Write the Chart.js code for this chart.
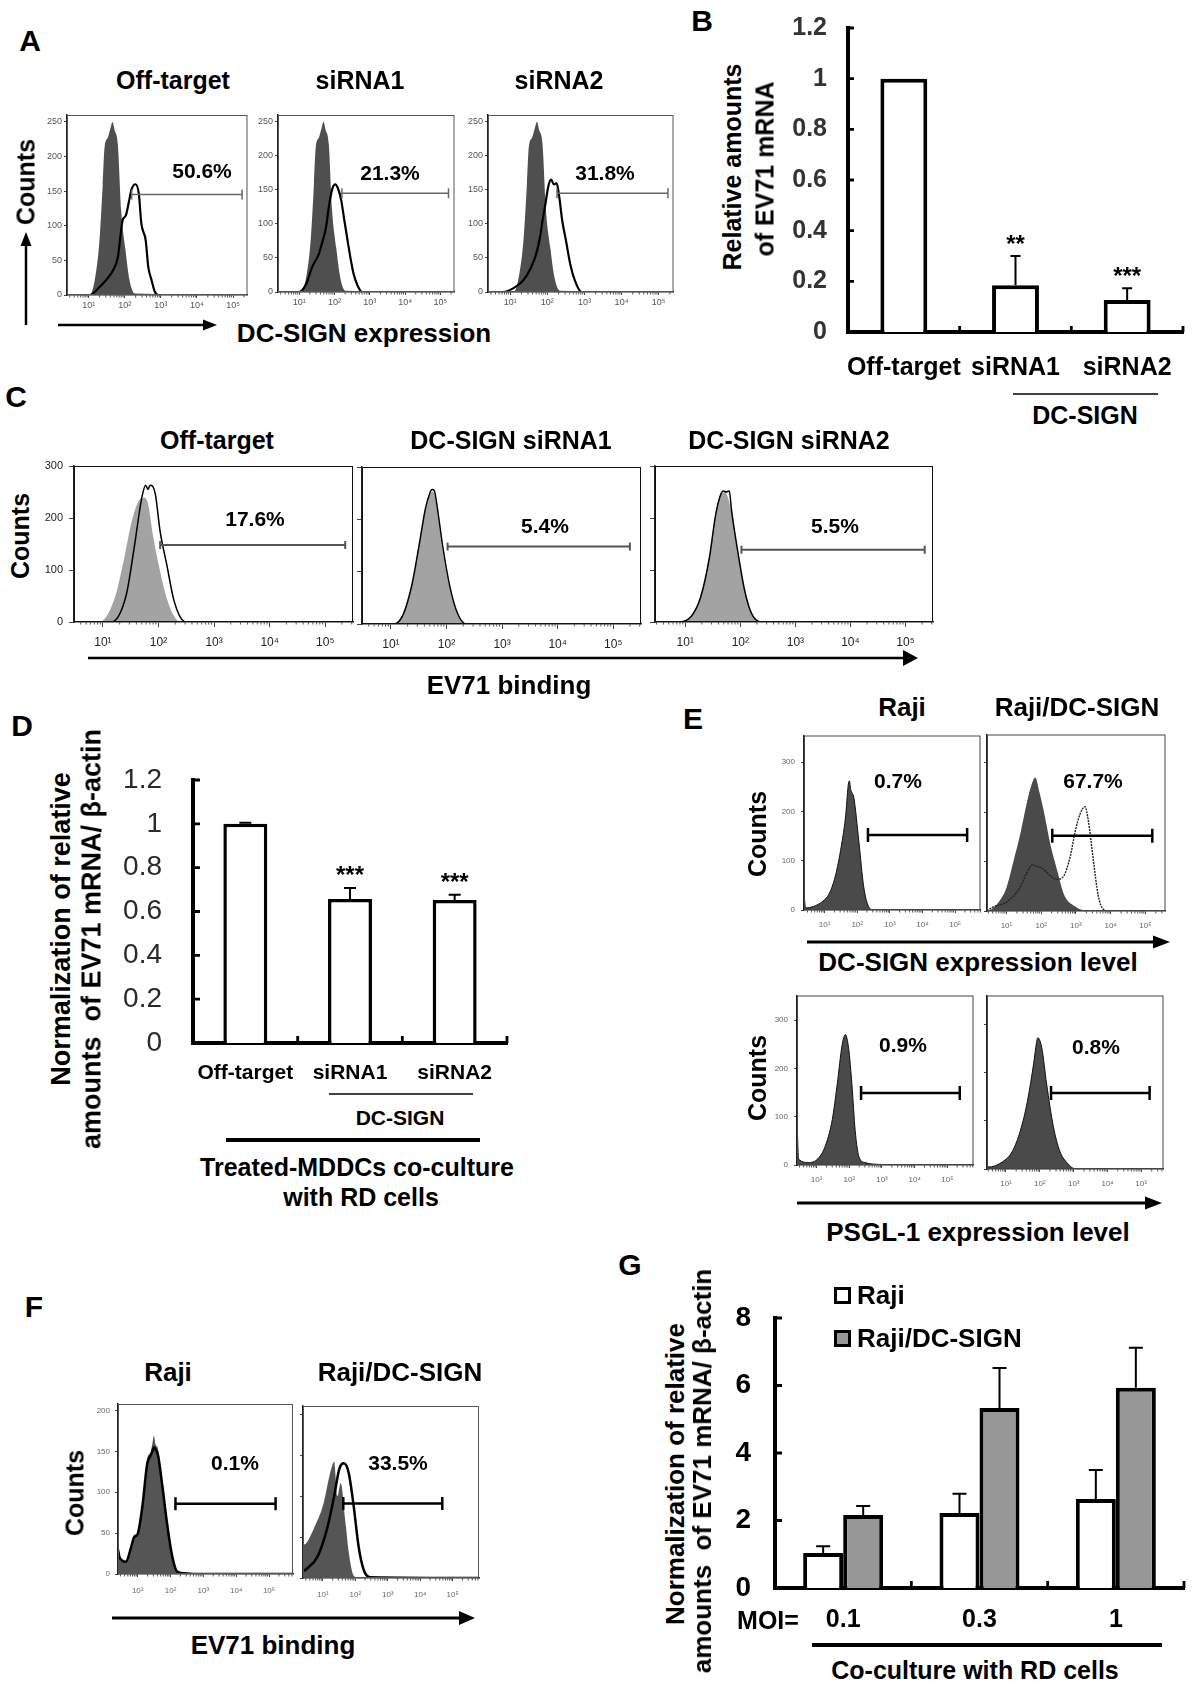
<!DOCTYPE html>
<html lang="en">
<head>
<meta charset="UTF-8" />
<title>DC-SIGN and EV71 binding</title>
<script src="https://cdn.jsdelivr.net/npm/chart.js"></script>
<style>
  body { margin: 0; background: #fff; font-family: 'Liberation Sans', Arial, sans-serif; }
  #page { position: relative; width: 1200px; height: 1698px; overflow: hidden; background: #fff; }
  canvas { position: absolute; }
  .t { position: absolute; transform: translate(-50%, -50%); font-weight: bold; white-space: pre; color: #000; line-height: 1; }
  .r { transform: translate(-50%, -50%) rotate(-90deg); }
  .l { transform: translate(0, -50%); }
  .box { position: absolute; width: 17px; height: 17px; box-sizing: border-box; border: 3px solid #000; }
  svg { position: absolute; left: 0; top: 0; }
</style>
</head>
<body>
<div id="page"></div>
<script>
// ---- data (x of histograms in log10 units, y = counts) ----
// Panel A: DC-SIGN expression
const aTitles = ['Off-target', 'siRNA1', 'siRNA2'];
const aPct = ['50.6%', '21.3%', '31.8%'];
const aGates = [[2.19, 5.25, 145], [2.21, 5.23, 145], [2.26, 5.25, 145]];
const aIsoY = [0, 0, 22, 79, 160, 213, 227, 240, 250, 238, 217, 122, 65, 22, 2, 0];
const aOffIsoX = [0.4, 1.03, 1.17, 1.3, 1.39, 1.44, 1.53, 1.6, 1.66, 1.72, 1.81, 1.9, 2.02, 2.13, 2.28, 5.4];
const aSi1IsoX = [0.4, 1.06, 1.2, 1.33, 1.42, 1.47, 1.56, 1.63, 1.69, 1.75, 1.84, 1.93, 2.05, 2.16, 2.31, 5.4];
const aSi2IsoX = [0.4, 1.09, 1.23, 1.36, 1.45, 1.5, 1.59, 1.66, 1.72, 1.78, 1.87, 1.96, 2.08, 2.19, 2.34, 5.4];
const aOffX = [0.4, 1.03, 1.31, 1.49, 1.68, 1.81, 1.94, 2.03, 2.12, 2.19, 2.3, 2.39, 2.46, 2.58, 2.65, 2.74, 2.83, 2.93, 5.4];
const aOffY = [0, 0, 12, 22, 36, 55, 108, 115, 136, 153, 160, 146, 103, 79, 41, 22, 5, 0, 0];
const aSi1X = [0.4, 1.0, 1.2, 1.37, 1.55, 1.67, 1.76, 1.84, 1.93, 2.02, 2.1, 2.19, 2.28, 2.37, 2.46, 2.54, 2.65, 2.78, 5.4];
const aSi1Y = [0, 0, 12, 37, 55, 76, 95, 125, 150, 158, 152, 135, 105, 76, 48, 27, 10, 0, 0];
const aSi2X = [0.4, 0.8, 1.1, 1.35, 1.55, 1.7, 1.8, 1.87, 1.95, 2.02, 2.1, 2.18, 2.25, 2.32, 2.4, 2.5, 2.62, 2.74, 2.92, 5.4];
const aSi2Y = [0, 0, 6, 17, 35, 56, 80, 105, 130, 154, 165, 158, 160, 140, 105, 76, 40, 17, 0, 0];

// Panel B: relative EV71 mRNA
const bCats = ['Off-target', 'siRNA1', 'siRNA2'];
const bVals = [1.0, 0.185, 0.126];
const bErr = [0, 0.115, 0.047];
const bSig = ['', '**', '***'];

// Panel C: EV71 binding
const cTitles = ['Off-target', 'DC-SIGN siRNA1', 'DC-SIGN siRNA2'];
const cPct = ['17.6%', '5.4%', '5.5%'];
const cGates = [[2.03, 5.36, 148], [2.02, 5.3, 148], [2.02, 5.35, 139]];
const c1FillX = [0.48, 0.94, 1.21, 1.37, 1.52, 1.64, 1.73, 1.8, 1.91, 2.03, 2.15, 2.27, 2.39, 5.5];
const c1FillY = [0, 0, 45, 116, 194, 232, 239, 232, 161, 97, 45, 13, 0, 0];
const c1LineX = [0.48, 1.15, 1.42, 1.57, 1.7, 1.77, 1.81, 1.85, 1.94, 2.03, 2.15, 2.27, 2.39, 2.5, 5.5];
const c1LineY = [0, 0, 52, 148, 239, 263, 255, 263, 248, 174, 110, 45, 10, 0, 0];
const c2FillX = [0.48, 1.05, 1.22, 1.38, 1.51, 1.62, 1.7, 1.76, 1.81, 1.92, 2.05, 2.19, 2.35, 5.5];
const c2FillY = [0, 0, 20, 78, 154, 218, 247, 253, 231, 148, 71, 20, 0, 0];
const c2LineX = [0.48, 1.05, 1.22, 1.38, 1.51, 1.62, 1.7, 1.74, 1.78, 1.82, 1.93, 2.06, 2.2, 2.36, 5.5];
const c2LineY = [0, 0, 18, 76, 152, 220, 250, 257, 255, 233, 150, 72, 20, 0, 0];
const c3FillX = [0.48, 0.95, 1.11, 1.28, 1.44, 1.55, 1.64, 1.72, 1.83, 1.94, 2.08, 2.21, 2.38, 5.5];
const c3FillY = [0, 0, 11, 49, 126, 204, 242, 249, 216, 139, 62, 17, 0, 0];
const c3LineX = [0.48, 0.9, 1.11, 1.28, 1.44, 1.55, 1.64, 1.69, 1.74, 1.8, 1.84, 1.95, 2.08, 2.21, 2.38, 5.5];
const c3LineY = [0, 0, 11, 48, 125, 205, 244, 252, 250, 252, 215, 138, 60, 15, 0, 0];

// Panel D: MDDC co-culture
const dCats = ['Off-target', 'siRNA1', 'siRNA2'];
const dVals = [1.0, 0.657, 0.653];
const dErr = [0.005, 0.05, 0.023];
const dSig = ['', '***', '***'];

// Panel E: DC-SIGN / PSGL-1 on Raji
const eTitles = ['Raji', 'Raji/DC-SIGN'];
const ePct = ['0.7%', '67.7%', '0.9%', '0.8%'];
const eGates = [[2.33, 5.37, 152], [2.32, 5.2, 152], [2.36, 5.38, 149], [2.33, 5.24, 158]];
const e1X = [0.37, 0.42, 0.65, 0.95, 1.15, 1.35, 1.54, 1.65, 1.72, 1.76, 1.8, 1.9, 2.05, 2.2, 2.35, 2.5, 5.78];
const e1Y = [32, 4, 7, 18, 34, 74, 140, 193, 250, 262, 245, 227, 140, 47, 7, 0, 0];
const e2FillX = [0.44, 0.6, 0.8, 1.0, 1.2, 1.39, 1.59, 1.72, 1.83, 1.95, 2.08, 2.27, 2.47, 2.66, 2.96, 3.2, 5.58];
const e2FillY = [0, 5, 20, 47, 100, 153, 220, 255, 270, 240, 200, 133, 80, 33, 10, 2, 0];
const e2LineX = [0.44, 0.58, 1.0, 1.38, 1.57, 1.75, 1.9, 2.04, 2.27, 2.46, 2.65, 2.84, 2.98, 3.12, 3.26, 3.36, 3.5, 3.64, 3.78, 3.92, 5.58];
const e2LineY = [0, 7, 18, 46, 75, 93, 90, 86, 71, 64, 71, 111, 161, 196, 211, 182, 104, 32, 4, 0, 0];
const e3X = [0.4, 0.45, 0.78, 1.08, 1.28, 1.48, 1.63, 1.78, 1.88, 1.98, 2.08, 2.18, 2.3, 2.48, 2.98, 3.28, 5.8];
const e3Y = [94, 12, 5, 16, 42, 94, 167, 248, 270, 241, 167, 71, 16, 5, 1, 0, 0];
const e4X = [0.44, 0.47, 0.9, 1.19, 1.43, 1.63, 1.82, 1.9, 1.94, 2.06, 2.2, 2.4, 2.59, 2.83, 3.02, 5.65];
const e4Y = [12, 4, 15, 37, 81, 140, 221, 262, 273, 251, 177, 88, 37, 11, 1, 0];

// Panel F: EV71 binding on Raji
const fPct = ['0.1%', '33.5%'];
const fGates = [[2.15, 5.2, 86], [1.63, 4.68, 91]];
const f1X = [0.4, 0.45, 0.64, 0.8, 0.89, 0.99, 1.14, 1.29, 1.39, 1.45, 1.49, 1.55, 1.62, 1.75, 1.9, 2.05, 2.2, 2.4, 2.8, 5.73];
const f1FillY = [30, 22, 16, 35, 48, 50, 84, 141, 149, 160, 169, 158, 153, 112, 64, 24, 4, 1, 0, 0];
const f1LineY = [30, 20, 15, 33, 45, 48, 82, 135, 145, 150, 155, 152, 145, 108, 60, 22, 3, 1, 0, 0];
const f2FillX = [0.39, 0.5, 0.75, 1.0, 1.25, 1.35, 1.45, 1.55, 1.7, 1.8, 1.95, 2.1, 5.81];
const f2FillY = [40, 43, 63, 88, 132, 142, 100, 116, 67, 31, 3, 0, 0];
const f2LineX = [0.39, 0.5, 0.85, 1.15, 1.35, 1.5, 1.58, 1.65, 1.8, 1.95, 2.1, 2.25, 2.45, 5.81];
const f2LineY = [8, 11, 27, 63, 100, 132, 139, 140, 128, 88, 39, 11, 1, 0];

// Panel G: co-culture with RD cells
const gCats = ['0.1', '0.3', '1'];
const gRaji = [1.04, 2.22, 2.64];
const gRajiErr = [0.2, 0.57, 0.86];
const gDC = [2.16, 5.33, 5.93];
const gDCErr = [0.27, 1.19, 1.19];

// ---- helpers ----
Chart.defaults.font.family = "'Liberation Sans', Arial, sans-serif";
Chart.defaults.color = '#000';
const page = document.getElementById('page');
const sup = ['', '\u00b9', '\u00b2', '\u00b3', '\u2074', '\u2075'];

// fixed axis sizes so the plot area lands exactly where we place it
function fixY(w) { return s => { s.width = w; s.paddingTop = 0; s.paddingBottom = 0; }; }
function fixX(h) { return s => { s.height = h; s.paddingLeft = 0; s.paddingRight = 0; }; }

// box around the plot area of the flow histograms
Chart.register({
  id: 'frame',
  afterDatasetsDraw(chart, args, o) {
    if (!o || !o.color) return;
    const a = chart.chartArea, ctx = chart.ctx;
    ctx.save();
    ctx.strokeStyle = o.color;
    ctx.lineWidth = 1;
    ctx.strokeRect(a.left + 0.5, a.top + 0.5, a.right - a.left - 1, a.bottom - a.top - 1);
    // small log minor ticks under the x axis
    const xs = chart.scales.x;
    ctx.strokeStyle = '#555';
    ctx.beginPath();
    for (let n = 0; n < 6; n++) {
      for (let k = 2; k < 10; k++) {
        const v = n + Math.log10(k);
        if (v < xs.min || v > xs.max) continue;
        const px = xs.getPixelForValue(v);
        ctx.moveTo(px, a.bottom);
        ctx.lineTo(px, a.bottom + 2.5);
      }
    }
    ctx.stroke();
    ctx.restore();
  }
});

// error bars, significance stars and inward tick marks for the bar charts
Chart.register({
  id: 'deco',
  afterDatasetsDraw(chart, args, o) {
    if (!o || !o.err) return;
    const ctx = chart.ctx, ys = chart.scales.y, xs = chart.scales.x, a = chart.chartArea;
    ctx.save();
    ctx.strokeStyle = '#000';
    ctx.fillStyle = '#000';
    chart.data.datasets.forEach((ds, i) => {
      chart.getDatasetMeta(i).data.forEach((bar, j) => {
        const e = o.err[i][j];
        const top = ys.getPixelForValue(ds.data[j]);
        const tip = ys.getPixelForValue(ds.data[j] + e);
        if (e > 0) {
          ctx.lineWidth = o.ew;
          ctx.beginPath();
          ctx.moveTo(bar.x, top);
          ctx.lineTo(bar.x, tip);
          ctx.moveTo(bar.x - o.cap, tip);
          ctx.lineTo(bar.x + o.cap, tip);
          ctx.stroke();
        }
        const s = o.sig[i] && o.sig[i][j];
        if (s) {
          ctx.font = "bold 24px 'Liberation Sans', Arial";
          ctx.textAlign = 'center';
          ctx.textBaseline = 'alphabetic';
          ctx.fillText(s, bar.x, tip - o.sigGap);
        }
      });
    });
    ctx.lineWidth = o.tw;
    ctx.beginPath();
    ys.ticks.forEach(t => {
      const py = ys.getPixelForValue(t.value);
      ctx.moveTo(a.left, py);
      ctx.lineTo(a.left + o.tl, py);
    });
    const n = xs.ticks.length;
    for (let k = 1; k <= n; k++) {
      const px = a.left + (a.right - a.left) * k / n;
      ctx.moveTo(px, a.bottom);
      ctx.lineTo(px, a.bottom - o.tl);
    }
    ctx.stroke();
    ctx.restore();
  }
});

function makeCanvas(area, m) {
  const c = document.createElement('canvas');
  const W = area[2] + m[1] + m[3], H = area[3] + m[0] + m[2];
  c.width = W; c.height = H;
  c.style.left = (area[0] - m[3]) + 'px';
  c.style.top = (area[1] - m[0]) + 'px';
  c.style.width = W + 'px';
  c.style.height = H + 'px';
  page.appendChild(c);
  return c;
}

function txt(s, x, y, size, cls, extra) {
  const d = document.createElement('div');
  d.className = 't' + (cls ? ' ' + cls : '');
  d.textContent = s;
  d.style.left = x + 'px';
  d.style.top = y + 'px';
  d.style.fontSize = size + 'px';
  if (extra) Object.assign(d.style, extra);
  page.appendChild(d);
}

const stA = { gate: '#666', gw: 1.5, cap: 5, frame: '#555', xf: 9, yf: 9, tc: '#555', xp: 2, yp: 2, tl: 3, mb: 22 };
const stC = { gate: '#555', gw: 2, cap: 4, frame: '#111', xf: 12, yf: 11, tc: '#222', xp: 8, yp: 6, tl: 5, mb: 32 };
const stE = { gate: '#000', gw: 2.5, cap: 7, frame: '#444', xf: 8, yf: 8, tc: '#666', xp: 7, yp: 6, tl: 3, mb: 28 };
const stF = { gate: '#000', gw: 2.5, cap: 6.5, frame: '#555', xf: 8, yf: 8, tc: '#666', xp: 9, yp: 5, tl: 3, mb: 30 };

function flow(area, xr, ymax, yTicks, showY, curves, gate, st) {
  const c = makeCanvas(area, [8, 6, st.mb, 34]);
  const datasets = curves.map(cv => ({
    data: cv.x.map((v, i) => ({ x: v, y: cv.y[i] })),
    fill: cv.fill ? 'origin' : false,
    backgroundColor: cv.fill || 'rgba(0,0,0,0)',
    borderColor: cv.line || 'rgba(0,0,0,0)',
    borderWidth: cv.w || 0,
    borderDash: cv.dash || [],
    pointRadius: 0,
    cubicInterpolationMode: 'monotone',
    order: cv.fill ? 3 : 2
  }));
  datasets.push({
    data: [{ x: gate[0], y: gate[2] }, { x: gate[1], y: gate[2] }],
    borderColor: st.gate, borderWidth: st.gw, fill: false,
    pointStyle: 'line', pointRotation: 90, pointRadius: st.cap,
    pointBorderColor: st.gate, pointBorderWidth: st.gw, order: 1
  });
  new Chart(c, {
    type: 'line',
    data: { datasets },
    options: {
      responsive: false,
      animation: false,
      layout: { padding: { top: 8, right: 6, left: 0, bottom: 0 } },
      plugins: { legend: { display: false }, tooltip: { enabled: false }, frame: { color: st.frame }, deco: false },
      scales: {
        x: {
          type: 'linear', min: xr[0], max: xr[1],
          afterBuildTicks: s => { s.ticks = [1, 2, 3, 4, 5].map(v => ({ value: v })); },
          afterFit: fixX(st.mb),
          ticks: { callback: v => '10' + sup[v], font: { size: st.xf }, color: st.tc, padding: st.xp, maxRotation: 0, autoSkip: false },
          grid: { drawOnChartArea: false, tickLength: st.tl, color: '#444' },
          border: { color: '#222', width: 1.5 }
        },
        y: {
          min: 0, max: ymax,
          afterBuildTicks: s => { s.ticks = yTicks.map(v => ({ value: v })); },
          afterFit: fixY(34),
          ticks: { display: showY, font: { size: st.yf }, color: st.tc, padding: st.yp },
          grid: { drawOnChartArea: false, tickLength: st.tl, color: '#444' },
          border: { color: '#222', width: 1.5 }
        }
      }
    }
  });
}

function bars(area, m, cats, sets, ymax, step, st) {
  const c = makeCanvas(area, m);
  const nT = Math.round(ymax / step);
  new Chart(c, {
    type: 'bar',
    data: {
      labels: cats,
      datasets: sets.map(s => ({
        data: s.v, backgroundColor: s.bg, borderColor: '#000', borderWidth: st.bw,
        barPercentage: st.bp, categoryPercentage: st.cp
      }))
    },
    options: {
      responsive: false,
      animation: false,
      layout: { padding: { top: m[0], right: m[1], left: 0, bottom: 0 } },
      plugins: {
        legend: { display: false }, tooltip: { enabled: false }, frame: false,
        deco: { err: sets.map(s => s.e), sig: sets.map(s => s.sig || []), ew: st.ew, cap: st.cap, sigGap: st.sg, tl: st.tl, tw: st.aw * 0.7 }
      },
      scales: {
        x: {
          z: 1,
          afterFit: fixX(m[2]),
          grid: { display: false, drawTicks: false },
          border: { color: '#000', width: st.aw },
          ticks: { font: { size: st.xf, weight: 'bold' }, color: '#000', padding: st.xp, maxRotation: 0, autoSkip: false }
        },
        y: {
          min: 0, max: ymax,
          afterFit: fixY(m[3]),
          afterBuildTicks: s => { s.ticks = Array.from({ length: nT + 1 }, (_, i) => ({ value: Math.round(i * step * 10) / 10 })); },
          grid: { display: false, drawTicks: false },
          border: { color: '#000', width: st.aw },
          ticks: { font: { size: st.yf, weight: st.yw }, color: st.yc, padding: st.yp, callback: v => String(Math.round(v * 10) / 10) }
        }
      }
    }
  });
}

// ---- panel A ----
const fillA = '#4f4f4f';
flow([67, 115, 181, 180], [0.4, 5.4], 260, [0, 50, 100, 150, 200, 250], true,
  [{ x: aOffIsoX, y: aIsoY, fill: fillA }, { x: aOffX, y: aOffY, line: '#000', w: 2.2 }], aGates[0], stA);
flow([278, 115, 177, 177], [0.4, 5.4], 260, [0, 50, 100, 150, 200, 250], true,
  [{ x: aSi1IsoX, y: aIsoY, fill: fillA }, { x: aSi1X, y: aSi1Y, line: '#000', w: 2.2 }], aGates[1], stA);
flow([488, 115, 186, 177], [0.4, 5.4], 260, [0, 50, 100, 150, 200, 250], true,
  [{ x: aSi2IsoX, y: aIsoY, fill: fillA }, { x: aSi2X, y: aSi2Y, line: '#000', w: 2.2 }], aGates[2], stA);

// ---- panel B ----
bars([848, 28, 335, 304], [20, 12, 60, 75], bCats,
  [{ v: bVals, e: bErr, sig: bSig, bg: '#fff' }], 1.2, 0.2,
  { bw: 4, bp: 0.42, cp: 1, ew: 2, cap: 5, sg: 4, tl: 6, aw: 4, xf: 25, xp: 21, yf: 25, yw: 'bold', yc: '#333', yp: 21 });

// ---- panel C ----
const fillC = '#a3a3a3';
flow([74, 466, 279, 156], [0.48, 5.5], 300, [0, 100, 200, 300], true,
  [{ x: c1FillX, y: c1FillY, fill: fillC }, { x: c1LineX, y: c1LineY, line: '#000', w: 1.5 }], cGates[0], stC);
flow([362, 467, 279, 157], [0.48, 5.5], 300, [0, 100, 200, 300], false,
  [{ x: c2FillX, y: c2FillY, fill: fillC }, { x: c2LineX, y: c2LineY, line: '#000', w: 1.5 }], cGates[1], stC);
flow([655, 466, 278, 156], [0.45, 5.5], 300, [0, 100, 200, 300], false,
  [{ x: c3FillX, y: c3FillY, fill: fillC }, { x: c3LineX, y: c3LineY, line: '#000', w: 1.5 }], cGates[2], stC);

// ---- panel D ----
bars([193, 780, 314, 263], [22, 10, 50, 93], dCats,
  [{ v: dVals, e: dErr, sig: dSig, bg: '#fff' }], 1.2, 0.2,
  { bw: 3.5, bp: 0.42, cp: 1, ew: 2, cap: 6, sg: 5, tl: 7, aw: 4, xf: 21, xp: 18, yf: 28, yw: 'normal', yc: '#2a2a2a', yp: 31 });

// ---- panel E ----
const fillE = '#4a4a4a';
flow([804, 734, 180, 176], [0.37, 5.78], 354, [0, 100, 200, 300], true,
  [{ x: e1X, y: e1Y, fill: fillE, line: '#111', w: 1 }], eGates[0], stE);
flow([987, 733, 182, 178], [0.44, 5.58], 357, [0, 100, 200, 300], false,
  [{ x: e2FillX, y: e2FillY, fill: fillE }, { x: e2LineX, y: e2LineY, line: '#222', w: 1.4, dash: [2, 1] }], eGates[1], stE);
flow([797, 994, 180, 171], [0.4, 5.8], 351, [0, 100, 200, 300], true,
  [{ x: e3X, y: e3Y, fill: fillE, line: '#111', w: 1 }], eGates[2], stE);
flow([987, 994, 180, 175], [0.44, 5.65], 361, [0, 100, 200, 300], false,
  [{ x: e4X, y: e4Y, fill: fillE, line: '#111', w: 1 }], eGates[3], stE);

// ---- panel F ----
const fillF = '#555';
flow([118, 1403, 178, 171], [0.4, 5.73], 208, [0, 50, 100, 150, 200], true,
  [{ x: f1X, y: f1FillY, fill: fillF }, { x: f1X, y: f1LineY, line: '#000', w: 2.5 }], fGates[0], stF);
flow([303, 1405, 179, 173], [0.39, 5.81], 210, [0, 50, 100, 150, 200], false,
  [{ x: f2FillX, y: f2FillY, fill: fillF }, { x: f2LineX, y: f2LineY, line: '#000', w: 2.5 }], fGates[1], stF);

// ---- panel G ----
bars([775, 1318, 409, 270], [22, 12, 50, 70], gCats,
  [{ v: gRaji, e: gRajiErr, bg: '#fff' }, { v: gDC, e: gDCErr, bg: '#979797' }], 8, 2,
  { bw: 4, bp: 1, cp: 0.587, ew: 2, cap: 7, sg: 4, tl: 7, aw: 4, xf: 25, xp: 17, yf: 28, yw: 'bold', yc: '#000', yp: 24 });

// ---- text ----
[['A', 30, 41], ['B', 702, 21], ['C', 16, 397], ['D', 22, 726], ['E', 693, 719], ['F', 34, 1307], ['G', 630, 1265]]
  .forEach(p => txt(p[0], p[1], p[2], 30));

txt(aTitles[0], 173, 80, 25); txt(aTitles[1], 360, 80, 25); txt(aTitles[2], 559, 80, 25);
txt(aPct[0], 202, 170, 21); txt(aPct[1], 390, 172, 21); txt(aPct[2], 605, 172, 21);
txt('Counts', 26, 182, 25, 'r');
txt('DC-SIGN expression', 364, 333, 26);

txt('Relative amounts', 732, 167, 25, 'r');
txt('of EV71 mRNA', 765, 169, 25, 'r');
txt('DC-SIGN', 1085, 415, 25);

txt(cTitles[0], 217, 440, 25); txt(cTitles[1], 511, 440, 25); txt(cTitles[2], 789, 440, 25);
txt(cPct[0], 255, 518, 21); txt(cPct[1], 545, 525, 21); txt(cPct[2], 835, 525, 21);
txt('Counts', 20, 536, 25, 'r');
txt('EV71 binding', 509, 685, 26);

txt('Normalization of relative', 61, 929, 27, 'r');
txt('amounts  of EV71 mRNA/ \u03b2-actin', 92, 939, 27, 'r');
txt('DC-SIGN', 400, 1117, 21);
txt('Treated-MDDCs co-culture', 357, 1167, 25);
txt('with RD cells', 361, 1197, 25);

txt(eTitles[0], 902, 707, 26); txt(eTitles[1], 1077, 707, 26);
txt(ePct[0], 898, 780, 21); txt(ePct[1], 1093, 780, 21);
txt(ePct[2], 903, 1044, 21); txt(ePct[3], 1096, 1046, 21);
txt('Counts', 757, 834, 25, 'r');
txt('Counts', 757, 1078, 25, 'r');
txt('DC-SIGN expression level', 978, 962, 26);
txt('PSGL-1 expression level', 978, 1232, 26);

txt(eTitles[0], 168, 1372, 26); txt(eTitles[1], 400, 1372, 26);
txt(fPct[0], 235, 1462, 21); txt(fPct[1], 398, 1462, 21);
txt('Counts', 75, 1493, 25, 'r');
txt('EV71 binding', 273, 1645, 26);

txt('Normalization of relative', 675, 1474, 26, 'r');
txt('amounts  of EV71 mRNA/ \u03b2-actin', 702, 1471, 26, 'r');
txt('MOI=', 768, 1620, 25);
txt('Co-culture with RD cells', 975, 1670, 25);

// legend of panel G
[['Raji', 1295, '#fff'], ['Raji/DC-SIGN', 1338, '#979797']].forEach(l => {
  const b = document.createElement('div');
  b.className = 'box';
  b.style.left = '834px';
  b.style.top = (l[1] - 8) + 'px';
  b.style.background = l[2];
  page.appendChild(b);
  txt(l[0], 857, l[1], 26, 'l');
});

// ---- arrows and rules ----
const svgParts = [];
function arrow(x1, y1, x2, y2, w, hl, hw) {
  const dx = x2 - x1, dy = y2 - y1, L = Math.hypot(dx, dy), ux = dx / L, uy = dy / L;
  const bx = x2 - ux * hl, by = y2 - uy * hl;
  svgParts.push(`<line x1="${x1}" y1="${y1}" x2="${bx}" y2="${by}" stroke="#000" stroke-width="${w}"/>`);
  svgParts.push(`<polygon points="${x2},${y2} ${bx - uy * hw / 2},${by + ux * hw / 2} ${bx + uy * hw / 2},${by - ux * hw / 2}" fill="#000"/>`);
}
function rule(x1, x2, y, w) {
  svgParts.push(`<line x1="${x1}" y1="${y}" x2="${x2}" y2="${y}" stroke="#000" stroke-width="${w}"/>`);
}
arrow(26, 325, 26, 232, 2.5, 14, 11);
arrow(58, 325, 217, 325, 2.5, 14, 11);
arrow(88, 658, 918, 658, 2.5, 15, 16);
arrow(807, 942, 1170, 942, 3, 17, 13);
arrow(797, 1203, 1162, 1203, 3, 17, 13);
arrow(112, 1618, 475, 1618, 3, 16, 14);
rule(1013, 1158, 394, 1.5);
rule(329, 473, 1094, 1.5);
rule(226, 480, 1140, 4);
rule(812, 1162, 1645, 4);
page.insertAdjacentHTML('beforeend', `<svg width="1200" height="1698">${svgParts.join('')}</svg>`);
</script>
</body>
</html>
